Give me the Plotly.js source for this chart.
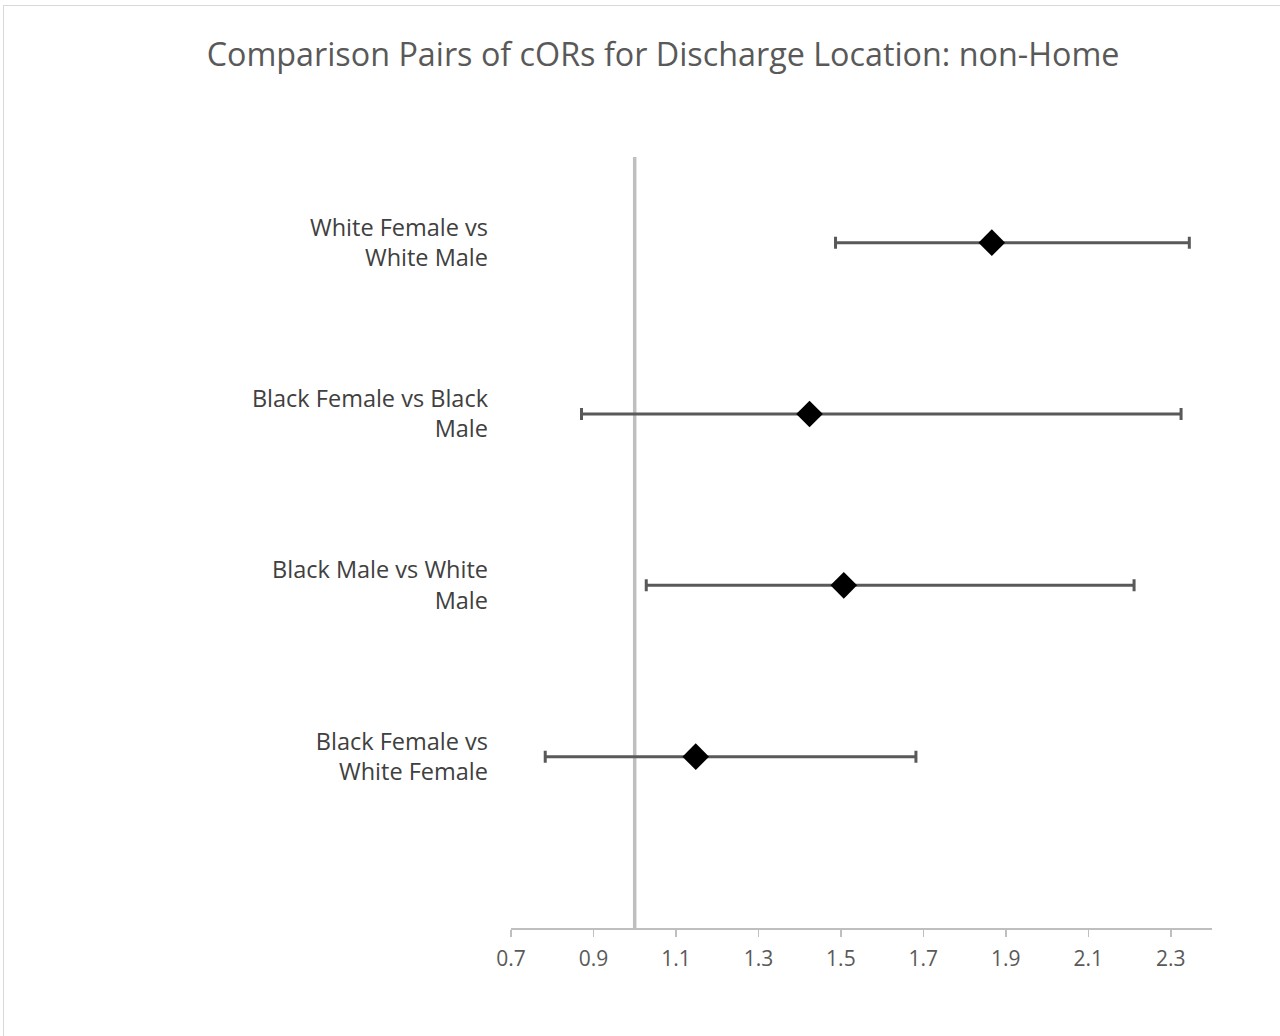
<!DOCTYPE html>
<html>
<head>
<meta charset="utf-8">
<script src="https://cdn.plot.ly/plotly-3.0.1.min.js"></script>
<style>
  html, body { margin: 0; padding: 0; background: #ffffff; }
  #chart { width: 1280px; height: 1036px; position: relative; }
  #frame { position: absolute; left: 3px; top: 5px; width: 1290px; height: 1050px;
           border-left: 1px solid #d9d9d9; border-top: 1px solid #d9d9d9; pointer-events: none; }
</style>
</head>
<body>
<div id="chart"></div>
<div id="frame"></div>
<script>
// Data
var categories = ["White Female vs<br>White Male", "Black Female vs Black<br>Male", "Black Male vs White<br>Male", "Black Female vs<br>White Female"];
var catPos = [4, 3, 2, 1];
var cor = [1.866, 1.424, 1.507, 1.148];
var lower = [1.487, 0.871, 1.028, 0.783];
var upper = [2.345, 2.325, 2.211, 1.682];
var refX = [1.0, 1.0];
var refY = [0, 4.5];
var xTicks = [0.7, 0.9, 1.1, 1.3, 1.5, 1.7, 1.9, 2.1, 2.3];

var errPlus = upper.map(function (u, i) { return u - cor[i]; });
var errMinus = lower.map(function (l, i) { return cor[i] - l; });

var traces = [
  {
    x: refX, y: refY, type: "scatter", mode: "lines",
    line: { color: "#bfbfbf", width: 3.5 },
    hoverinfo: "skip", showlegend: false
  },
  {
    x: cor, y: catPos, type: "scatter", mode: "markers",
    marker: { symbol: "diamond", size: 20.5, color: "#000000" },
    error_x: { type: "data", symmetric: false, array: errPlus, arrayminus: errMinus,
               color: "#595959", thickness: 3, width: 6 },
    showlegend: false
  }
];

var layout = {
  width: 1280, height: 1036,
  paper_bgcolor: "#ffffff", plot_bgcolor: "#ffffff",
  margin: { l: 511, r: 68, t: 157, b: 108, pad: 0 },
  font: { family: "'Open Sans', 'Liberation Sans', sans-serif", color: "#595959" },
  title: {
    text: "Comparison Pairs of cORs for Discharge Location: non-Home",
    font: { size: 32.3, color: "#595959", family: "'Open Sans', sans-serif" },
    x: 0.518, xanchor: "center", y: 0.947, yanchor: "middle"
  },
  xaxis: {
    range: [0.7, 2.4], tickvals: xTicks, ticktext: xTicks.map(function (v) { return v.toFixed(1); }),
    showgrid: false, zeroline: false, showline: true, linecolor: "#bfbfbf", linewidth: 1.5,
    ticks: "outside", ticklen: 7, tickwidth: 1.5, tickcolor: "#bfbfbf",
    ticklabelstandoff: 4,
    tickfont: { size: 21, color: "#595959" }, fixedrange: true
  },
  yaxis: {
    range: [0, 4.5], tickvals: catPos, ticktext: categories,
    showgrid: false, zeroline: false, showline: false, ticks: "",
    ticklabelstandoff: 22,
    tickfont: { size: 23.5, color: "#404040" }, fixedrange: true
  }
};

Plotly.newPlot("chart", traces, layout, { displayModeBar: false, staticPlot: true });
</script>
</body>
</html>
